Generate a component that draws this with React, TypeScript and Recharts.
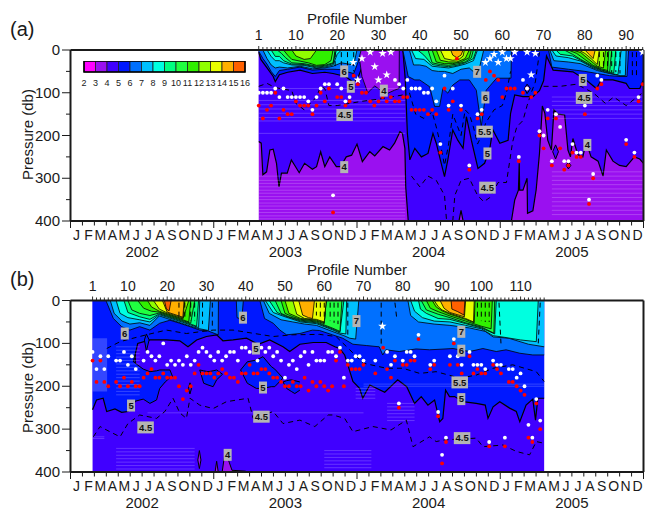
import React from 'react';
import { ComposedChart, Area, Line, Scatter, XAxis, YAxis, ReferenceArea } from 'recharts';

type Pt = [number, number];
type Tri = [number, number, number];

const FONT = '"Liberation Sans", Arial, sans-serif';
const INK = '#1a1a1a';

// colour of the band that starts at each temperature, 2 to 15 degrees
const levels = [2, 3, 4, 5, 6, 7, 8, 9, 10, 11, 12, 13, 14, 15];
const levelColors = ['#ff00ff', '#9a10f0', '#4000ff', '#0018ff', '#0070ff', '#00c0ff', '#00ffe0', '#00ff80', '#20ff40', '#30f000', '#90ff00', '#e8ff00', '#ffb000', '#ff6000'];
const scaleTicks = [2, 3, 4, 5, 6, 7, 8, 9, 10, 11, 12, 13, 14, 15, 16];

const monthLetters = ['J', 'F', 'M', 'A', 'M', 'J', 'J', 'A', 'S', 'O', 'N', 'D'];
const yearLabels: Record<number, string> = { 6: '2002', 18: '2003', 30: '2004', 42: '2005' };
const monthTicks = [0, 1, 2, 3, 4, 5, 6, 7, 8, 9, 10, 11, 12, 13, 14, 15, 16, 17, 18, 19, 20, 21, 22, 23, 24, 25, 26, 27, 28, 29, 30, 31, 32, 33, 34, 35, 36, 37, 38, 39, 40, 41, 42, 43, 44, 45, 46, 47, 48];
const pressureTicks = [0, 50, 100, 150, 200, 250, 300, 350, 400];

/* ---------- panel a, [profile, pressure] ---------- */
const aFloor: Pt[] = [[1, 400], [94.2, 400]];
const a4: Pt[] = [[1, 214], [1.6, 218], [2, 292], [2.9, 285], [3.7, 234], [4.5, 232], [5.3, 265], [5.9, 320], [6.5, 288], [7.9, 288], [8.9, 257], [10.8, 287], [12.1, 265], [14, 279], [15, 273], [16, 238], [17, 273], [18.2, 250], [19.8, 273], [20.8, 273], [22.2, 250], [23.5, 246], [24.8, 220], [26.1, 261], [27.9, 238], [29.1, 248], [31.1, 226], [32.7, 234], [33.9, 218], [35.2, 191], [35.8, 195], [36.4, 230], [36.6, 320], [37.2, 398], [37.5, 400], [49.5, 400], [50, 375], [50.5, 400], [62.2, 400], [63, 351], [63.9, 328], [64.1, 265], [64.2, 328], [65, 328], [66, 300], [66.1, 382], [67.4, 376], [68.2, 327], [69, 242], [69.7, 131], [70.3, 148], [71, 211], [71.9, 234], [72.5, 140], [73.5, 150], [75.1, 152], [75.9, 234], [76.5, 250], [77.1, 207], [78.3, 245], [79.5, 250], [80.3, 215], [81.5, 250], [83.2, 260], [84.4, 295], [85.2, 234], [86.8, 260], [88.4, 270], [90, 273], [92, 250], [93.3, 255], [94.2, 265]];
const a5: Pt[] = [[1, 5], [1.5, 22], [3, 42], [4.5, 62], [5, 74], [6, 58], [8, 52], [11, 47], [14, 55], [17, 52], [19, 55], [22, 62], [24, 76], [25, 66], [26, 40], [26.5, 0], [35.9, 0], [36.5, 70], [37, 195], [37.6, 257], [38.8, 230], [40.4, 250], [42, 242], [43.2, 195], [44, 218], [45.2, 265], [46, 296], [46.8, 257], [48, 187], [49.2, 211], [50.5, 230], [51.3, 156], [52.5, 211], [54.1, 277], [55.7, 265], [56.9, 234], [57.7, 187], [59.4, 218], [61.4, 211], [62, 148], [63, 105], [65, 109], [67.4, 109], [69, 95], [70, 72], [70.7, 14], [72.3, 47], [77.1, 51], [80.3, 70], [82.8, 90], [84, 70], [86.8, 70], [90, 78], [90.8, 90], [93.3, 90], [94.2, 70]];
const aColdCap: Pt[] = [[25.1, 0], [26, 62], [27.4, 100], [29.1, 84], [30.9, 97], [32.3, 101], [33.9, 94], [35, 90], [35.05, 0]];
const a6: Pt[] = [[1, 3], [2, 20], [3, 33], [4, 50], [5, 62], [6, 48], [8, 45], [11, 40], [14, 47], [17, 45], [19, 45], [21, 46], [22, 50], [24, 55], [25, 30], [25.8, 0], [35.9, 0], [37.2, 62], [38.8, 70], [40, 70], [42.4, 86], [43.6, 132], [44.8, 132], [45.6, 90], [46.8, 101], [48, 82], [49.7, 70], [52, 70], [53.7, 94], [54.9, 179], [56.1, 94], [58.6, 66], [62.1, 66], [62.2, 0], [71.2, 0], [72, 40], [76, 45], [80, 50], [83, 55], [86, 60], [88.5, 62], [90.2, 62], [90.6, 0]];
const a7: Pt[] = [[2, 0], [3, 20], [4, 35], [5, 42], [6, 40], [8, 42], [11, 38], [14, 44], [17, 42], [19, 38], [21, 30], [24, 35], [24.8, 0], [37.5, 0], [38.5, 35], [40, 35], [41.5, 38], [43, 48], [44.5, 50], [46, 50], [48, 55], [50, 45], [52, 42], [53.5, 55], [54.5, 40], [55.5, 0], [71.5, 0], [72.5, 25], [76, 28], [79, 32], [83, 48], [86, 55], [88.5, 60], [89.8, 60], [90, 0]];
const a8: Pt[] = [[3, 0], [4, 15], [5, 25], [6, 25], [7, 30], [9, 35], [12, 36], [15, 42], [17, 40], [19, 35], [20, 10], [21, 0], [38, 0], [39, 20], [41, 22], [43, 38], [45, 40], [47, 42], [49, 38], [51, 33], [53, 25], [54, 0], [72, 0], [73, 14], [76, 18], [79, 26], [82, 42], [85, 52], [88, 58], [88.8, 0]];
const a9: Pt[] = [[4, 0], [5, 15], [6, 15], [7, 25], [9, 33], [12, 34], [15, 40], [17, 38], [19, 32], [19.8, 0], [39.5, 0], [41, 12], [43, 34], [45, 37], [47, 39], [49, 36], [51, 30], [53, 20], [53.7, 0], [73, 0], [74, 10], [77, 14], [79, 24], [82, 40], [85, 50], [87, 54], [87.5, 0]];
const a10: Pt[] = [[5.5, 0], [6.5, 8], [7.5, 18], [9, 30], [12, 32], [15, 38], [17, 36], [19, 30], [19.5, 0], [42, 0], [43, 30], [45, 34], [47, 36], [49, 33], [51, 28], [52.5, 18], [53, 0], [75, 0], [77, 10], [79, 22], [82, 38], [84, 46], [86, 52], [86.5, 0]];
const a11: Pt[] = [[7, 0], [8, 12], [9, 22], [11, 26], [13, 30], [15, 36], [17, 34], [18.5, 25], [19, 0], [43, 0], [44, 28], [46, 32], [48, 32], [50, 28], [52, 18], [52.5, 0], [76, 0], [78, 8], [80, 22], [82, 36], [84, 44], [85.5, 48], [85.8, 0]];
const a12: Pt[] = [[9, 0], [10, 14], [12, 22], [13.5, 20], [15, 0], [44, 0], [45, 24], [47, 28], [49, 28], [51, 20], [52, 0], [77, 0], [79, 6], [81, 22], [83, 38], [84.5, 42], [85, 0]];
const a13: Pt[] = [[45, 0], [46, 20], [48, 24], [49.5, 22], [50.5, 14], [50.8, 0], [78.5, 0], [80, 8], [81.5, 20], [83, 34], [83.5, 0]];
const a14: Pt[] = [[47.5, 0], [48, 12], [49, 18], [50, 12], [50.5, 0], [80, 0], [81, 10], [82, 20], [82.5, 0]];
const aIsotherms: [number, Pt[]][] = [[4, a4], [5, a5], [3, aColdCap], [6, a6], [7, a7], [8, a8], [9, a9], [10, a10], [11, a11], [12, a12], [13, a13], [14, a14]];
const aEyes: [number, Tri[]][] = [
  [4, [[72.2, 238, 238], [72.9, 222, 255], [73.6, 238, 238]]],
  [4, [[75.5, 270, 270], [76, 262, 278], [76.6, 270, 270]]],
  [5, [[65.4, 90, 90], [66, 80, 102], [66.8, 90, 90]]],
];
const aDashes: Pt[][] = [
  [[1, 85], [3, 78], [5, 88], [9, 95], [10, 125], [12, 140], [15, 110], [16, 85], [17, 90], [18, 130], [20, 130], [23, 125], [26, 120], [30, 115], [33, 110], [36, 105]],
  [[38, 295], [40, 320], [42, 295], [44, 305], [46, 340], [46.5, 400]],
  [[48, 400], [48.5, 340], [50, 305], [52, 300], [54, 340], [55.5, 355], [57, 345], [59, 310], [61, 310], [62.5, 215], [63.5, 180], [65, 165], [66, 130], [67, 100], [68, 75], [69, 5]],
  [[70, 85], [74, 85], [78, 80], [82, 100], [85, 125], [87, 110], [90, 130], [94, 100]],
  [[37.5, 100], [39, 150], [41, 160], [43, 145], [44, 180], [45, 220], [46, 270], [47, 220], [48, 150], [50, 200], [51, 140], [52, 150], [53, 180], [54, 220], [55, 200], [56, 170], [58, 140], [60, 130], [61, 100], [62, 50]],
  [[19.5, 5], [19.5, 42]], [[21, 5], [21, 45]], [[22.5, 5], [22.5, 48]], [[24, 5], [24, 50]],
  [[83.5, 5], [83.5, 45]], [[84.5, 5], [84.5, 48]], [[85.5, 5], [85.5, 50]], [[86.5, 5], [86.5, 52]], [[87.5, 5], [87.5, 52]], [[88.5, 5], [88.5, 55]], [[91.5, 5], [91.5, 60]], [[92.5, 5], [92.5, 60]],
];
const aHatch: [number, number, number[]][] = [
  [1, 36.5, [195, 295, 305, 312, 320, 328, 335, 343, 350, 358, 365, 373, 380, 388, 395]],
  [1, 36.5, [90, 118, 128, 138, 148, 158, 166]],
  [72, 94, [110, 120, 130, 140, 150, 160, 285, 295, 305, 315, 325, 335, 345, 355, 365, 375, 385]],
];
const aWhite: Pt[] = [[1, 100], [2, 100], [3, 100], [4, 100], [5, 90], [6, 110], [7, 90], [8, 110], [9, 110], [10, 110], [11, 110], [12, 110], [13, 120], [14, 140], [15, 110], [16, 90], [17, 80], [18, 80], [19, 340], [20, 80], [21, 90], [22, 120], [23, 110], [34, 70], [35, 80], [36, 90], [37, 70], [38, 90], [39, 90], [40, 90], [41, 100], [42, 100], [43, 90], [44, 120], [45, 220], [46, 60], [47, 130], [48, 90], [50, 130], [52, 270], [54, 150], [55, 140], [64, 250], [65, 70], [66, 90], [69, 190], [70, 200], [71, 140], [72, 260], [73, 150], [74, 180], [75, 260], [76, 260], [77, 220], [78, 240], [79, 240], [80, 130], [81, 350], [82, 290], [83, 60], [84, 70], [90, 210], [92, 240], [93, 110]];
const aRed: Pt[] = [[1, 130], [2, 160], [3, 140], [4, 130], [5, 100], [6, 160], [7, 140], [8, 150], [9, 150], [10, 120], [11, 130], [12, 130], [13, 130], [14, 150], [15, 130], [16, 100], [17, 120], [18, 90], [19, 380], [20, 110], [21, 110], [22, 130], [23, 120], [24, 60], [25, 80], [26, 100], [27, 100], [28, 120], [29, 130], [30, 120], [31, 110], [32, 120], [33, 110], [34, 120], [35, 120], [36, 110], [37, 110], [38, 140], [39, 140], [40, 140], [41, 140], [42, 150], [43, 140], [44, 150], [45, 240], [46, 90], [47, 140], [48, 120], [49, 20], [50, 140], [52, 280], [54, 160], [55, 150], [56, 70], [57, 50], [58, 60], [59, 70], [60, 110], [61, 90], [62, 90], [63, 90], [64, 260], [65, 100], [66, 90], [67, 110], [68, 100], [69, 200], [70, 230], [71, 160], [72, 270], [73, 160], [74, 230], [75, 280], [76, 270], [77, 240], [78, 250], [79, 250], [80, 150], [81, 360], [82, 300], [83, 90], [84, 80], [90, 220], [92, 250], [93, 120], [94, 80]];
const aStars: Pt[] = [[23.9, 29], [25, 70], [26, 20], [28, 5], [29.1, 39], [30, 70], [31, 8], [32, 58], [33, 5], [55.9, 29], [57, 20], [58, 10], [59, 29], [60, 5], [61, 20], [62, 20], [63, 5], [66, 5], [67, 58], [68, 8], [94, 5]];
const aLabels: [number, number, string][] = [[21.7, 50, '6'], [23.3, 86, '5'], [31.3, 95, '4'], [21.8, 152, '4.5'], [21.7, 274, '4'], [53.9, 51, '7'], [55.9, 111, '6'], [55.7, 191, '5.5'], [56.4, 242, '5'], [56.4, 322, '4.5'], [79.5, 70, '5'], [79.8, 112, '4.5'], [80.6, 222, '4']];

/* ---------- panel b, [profile, pressure] ---------- */
const bFloor: Pt[] = [[1, 400], [116, 400]];
const b5Left: Pt[] = [[1, 255], [2, 232], [3.7, 228], [4.6, 259], [6.7, 253], [8.4, 261], [10, 259], [11.8, 236], [12, 0]];
const b5: Pt[] = [[11.4, 143], [12.5, 100], [15.6, 92], [19.8, 92], [23.2, 94], [25.3, 108], [27.5, 92], [30, 84], [32.6, 80], [34.2, 94], [36.8, 92], [40.2, 88], [43.2, 102], [46.1, 92], [49.5, 108], [51.2, 119], [53.8, 102], [57.2, 98], [60.5, 98], [62.7, 108], [63.9, 112], [65.2, 127], [66, 150], [67.3, 189], [69, 205], [69.8, 228], [71.6, 197], [75.4, 214], [78.7, 185], [81, 201], [83, 240], [84.7, 224], [86.4, 244], [88.1, 232], [89.4, 283], [90.2, 275], [90.9, 209], [91.9, 224], [93.2, 224], [95.3, 236], [98.7, 240], [101, 244], [101.7, 275], [103, 248], [104.7, 236], [107.2, 251], [108.9, 259], [109.8, 283], [111.4, 244], [113.1, 230], [113.8, 279], [114.4, 228], [116, 228]];
const b6: Pt[] = [[4.4, 0], [6.3, 42], [8.4, 61], [10.5, 69], [13, 61], [15.6, 69], [18.1, 53], [20.7, 46], [23.2, 53], [25.8, 61], [28.3, 69], [30.4, 71], [33, 80], [33.05, 0], [37.6, 0], [37.8, 40], [39, 44], [39.4, 0], [43.6, 0], [44.8, 42], [47, 53], [48.7, 69], [50.4, 80], [53.8, 77], [57, 69], [58.8, 70], [62.1, 80], [64.7, 88], [67.3, 102], [70.7, 105], [74, 108], [74.9, 127], [75.7, 115], [79.1, 119], [83.4, 113], [86.8, 115], [92.8, 112], [97, 119], [100.4, 112], [103.8, 119], [106.3, 115], [109.8, 123], [113.1, 127], [116, 127]];
const b7: Pt[] = [[5.5, 0], [6.5, 30], [8.5, 48], [10.5, 55], [13, 52], [15.6, 58], [18, 36], [20, 42], [22, 48], [24, 54], [26, 60], [28.3, 66], [30.5, 70], [31, 0], [44.5, 0], [46, 30], [49, 45], [52, 50], [55, 55], [58, 58], [62, 72], [65, 82], [66.5, 88], [68, 90], [68.8, 0], [81.3, 0], [82, 35], [84, 50], [88, 55], [92, 58], [97, 64], [101, 72], [103, 85], [107, 88], [112, 102], [116, 108]];
const b8: Pt[] = [[7, 0], [8, 30], [10, 40], [13, 45], [15.6, 50], [18, 33], [20, 39], [22, 45], [24, 51], [26, 57], [28, 63], [28.3, 0], [45, 0], [47, 28], [50, 38], [54, 50], [58, 54], [62, 68], [64, 76], [65.5, 78], [65.7, 0], [82, 0], [83, 25], [85, 40], [88, 48], [92, 50], [96, 58], [100, 66], [103, 82], [106, 86], [110, 92], [114, 96], [114.5, 0]];
const b9: Pt[] = [[9, 0], [10, 28], [13, 38], [15.6, 44], [18, 31], [20, 37], [22, 43], [24, 49], [26, 55], [27.5, 60], [28, 0], [46, 0], [48, 28], [50, 36], [54, 48], [58, 52], [62, 66], [64, 74], [65, 0], [84, 0], [84.5, 20], [86, 30], [89, 42], [92, 44], [96, 54], [100, 64], [103.4, 78], [103.8, 0]];
const b10: Pt[] = [[10, 0], [11, 22], [13, 30], [15.6, 35], [18, 29], [20, 35], [22, 41], [24, 47], [26, 53], [27, 0], [47.5, 0], [49, 30], [51, 38], [54, 46], [58, 50], [62, 64], [64, 72], [64.5, 0], [84.7, 0], [86, 22], [89, 32], [92, 40], [96, 52], [100, 62], [103.2, 76], [103.4, 0]];
const b11: Pt[] = [[12.5, 0], [14, 18], [16, 25], [18, 27], [20, 33], [22, 39], [24, 45], [25.5, 50], [26, 0], [49, 0], [50, 30], [52, 38], [54, 44], [58, 48], [60, 54], [60.5, 0], [86, 0], [87, 18], [89, 26], [92, 36], [96, 48], [100, 60], [102.5, 66], [102.8, 0]];
const b12: Pt[] = [[15, 0], [16, 15], [18, 25], [20, 31], [22, 37], [24, 43], [25.5, 0], [50, 0], [51, 30], [54, 42], [58, 46], [60, 52], [60.5, 0], [87.5, 0], [88.5, 15], [90, 24], [92, 32], [96, 44], [98.2, 52], [98.4, 0]];
const b13: Pt[] = [[16.5, 0], [18, 20], [20, 29], [22, 35], [24, 41], [24.5, 0], [52, 0], [53, 32], [55, 42], [58, 44], [60, 50], [60.5, 0], [88, 0], [89, 14], [90, 22], [92, 30], [96, 42], [98, 50], [98.2, 0]];
const b14: Pt[] = [[18.8, 0], [20, 27], [22, 33], [24, 39], [24.3, 0], [53.5, 0], [54.5, 34], [56, 40], [57, 42], [57.5, 0], [89.5, 0], [90.5, 18], [92, 28], [95.7, 38], [96, 0]];
const b15: Pt[] = [[19.3, 0], [19.8, 20], [20.5, 24], [21, 0], [92.3, 0], [92.5, 20], [94, 26], [95.6, 34], [95.8, 0]];
const bIsotherms: [number, Pt[]][] = [[5, b5Left], [5, b5], [6, b6], [7, b7], [8, b8], [9, b9], [10, b10], [11, b11], [12, b12], [13, b13], [14, b14], [15, b15]];
const bEyes: [number, Tri[]][] = [
  [5, [[11.4, 143, 236], [13.9, 160, 230], [15.6, 166, 240], [17.3, 164, 232], [18.1, 162, 205], [19.5, 162, 190], [20.7, 162, 180], [21.4, 178, 178]]],
  [5, [[38.7, 162, 162], [40.4, 143, 193], [42.7, 139, 205], [44.4, 131, 205], [46.5, 154, 201], [47.4, 160, 201], [49.5, 181, 181]]],
  [5, [[28.3, 162, 162], [29.3, 164, 193], [30.4, 166, 197], [31.7, 164, 201], [32.6, 162, 185], [34.1, 172, 172]]],
  [5, [[49.5, 190, 190], [50.4, 187, 205], [51.6, 185, 212], [52.5, 187, 217], [53.8, 190, 209]]],
  [5, [[25.4, 205, 205], [25.8, 192, 218], [26.2, 205, 205]]],
  [5, [[14.2, 92, 92], [14.7, 78, 118], [15.4, 92, 92]]],
  [3, [[27.8, 372, 372], [28.2, 350, 392], [28.6, 372, 372]]],
  [3, [[32.2, 400, 400], [32.6, 375, 400], [33, 400, 400], [34, 400, 400], [34.8, 350, 400], [35.6, 372, 400], [36.5, 396, 400], [40, 398, 400]]],
];
const bDashes: Pt[][] = [
  [[1.2, 318], [2.9, 294], [5.4, 306], [8, 318], [10, 287], [13, 267], [17.3, 275], [19.4, 259], [21.5, 228], [23.2, 262], [24.9, 275], [25.8, 228], [28.3, 244], [31.7, 252], [35.1, 236], [40.6, 228], [41.9, 275], [47, 259], [49.5, 287], [53.8, 279], [57.6, 294], [61, 267], [62.2, 267], [65.2, 275], [67.3, 306], [72.4, 294], [77, 302], [80.9, 279], [82.6, 341], [86.8, 318], [88.5, 329], [90.7, 325], [98.7, 321], [100.4, 341], [105.5, 337], [108.9, 352], [112.3, 360], [114, 329], [116, 333]],
  [[4.6, 112], [8, 96], [11.3, 88], [14.7, 80], [19.8, 69], [24.9, 77], [31.7, 69], [36.8, 69], [43.6, 79], [47, 84], [52, 80], [58.8, 79], [63, 84], [66.5, 115], [69.9, 146], [75.8, 158], [80, 158], [84.3, 170], [88.5, 166], [94.5, 181], [98.7, 174], [103, 158], [108, 150], [114, 166], [116, 189]],
  [[74.5, 5], [74.5, 105]], [[78, 5], [78.5, 45]], [[104.5, 5], [105, 100]], [[115, 5], [114.5, 100]],
  [[23, 5], [23, 40]], [[24.5, 5], [24.5, 40]], [[26, 5], [26, 48]], [[27, 5], [27, 48]], [[29, 5], [29, 55]], [[31.5, 5], [31.5, 65]],
  [[58, 5], [58, 35]], [[59, 5], [59, 38]], [[60, 5], [60, 38]], [[61.5, 5], [61.5, 48]], [[62.5, 5], [62.5, 52]], [[63.5, 5], [63.5, 55]], [[66, 5], [66, 82]],
  [[99, 5], [99, 45]], [[100, 5], [100, 48]], [[101, 5], [101, 50]], [[102, 5], [102, 50]],
];
const bHatch: [number, number, number[]][] = [
  [7, 13, [108, 116, 124, 132, 140, 148, 156, 164, 172, 180, 188, 196, 204, 212, 220]],
  [7, 27, [345, 353, 361, 369, 377, 385, 393]],
  [15, 70, [262]],
  [60, 72, [350, 358, 366, 374, 382, 390]],
  [70, 116, [195, 200]],
  [76, 83, [240, 248, 256, 264, 272, 280]],
  [68, 73, [205, 212, 220, 228]],
  [1, 4, [318, 322]],
];
const bLightPatch: Tri[] = [[1, 88, 212], [4.7, 88, 212]];
const bWhite: Pt[] = [[1, 120], [2, 160], [3, 130], [4, 160], [5, 130], [7, 140], [8, 140], [9, 120], [10, 150], [11, 130], [12, 160], [14, 140], [15, 120], [16, 130], [17, 140], [18, 130], [19, 100], [20, 150], [21, 140], [22, 150], [23, 140], [24, 150], [25, 130], [26, 150], [27, 140], [28, 120], [29, 110], [30, 120], [31, 130], [32, 140], [33, 120], [34, 140], [35, 130], [36, 120], [37, 120], [38, 140], [39, 110], [40, 110], [41, 120], [42, 120], [43, 140], [44, 110], [45, 120], [46, 110], [47, 130], [48, 120], [49, 140], [50, 180], [51, 150], [52, 140], [53, 160], [54, 130], [55, 120], [56, 150], [57, 120], [58, 140], [59, 140], [60, 140], [61, 120], [62, 120], [63, 130], [64, 110], [65, 180], [66, 140], [67, 140], [68, 130], [69, 130], [70, 140], [73, 140], [76, 120], [77, 150], [78, 130], [79, 240], [80, 140], [81, 120], [82, 120], [83, 130], [84, 80], [87, 150], [88, 140], [89, 260], [90, 360], [91, 320], [92, 130], [93, 90], [94, 130], [95, 150], [97, 120], [98, 150], [99, 150], [100, 150], [101, 160], [102, 330], [103, 140], [104, 150], [105, 150], [106, 320], [107, 160], [108, 160], [109, 180], [110, 170], [111, 200], [112, 290], [113, 320], [114, 230], [115, 280]];
const bRed: Pt[] = [[1, 140], [2, 190], [3, 140], [4, 190], [5, 200], [7, 190], [8, 200], [9, 180], [10, 200], [11, 190], [12, 200], [13, 200], [14, 180], [15, 170], [16, 160], [17, 180], [18, 180], [19, 170], [20, 180], [21, 180], [22, 180], [23, 200], [24, 230], [25, 210], [26, 200], [27, 170], [28, 150], [29, 170], [30, 170], [31, 170], [32, 180], [33, 170], [34, 160], [35, 170], [36, 180], [37, 180], [38, 190], [39, 170], [40, 170], [41, 150], [42, 170], [43, 170], [44, 160], [45, 160], [46, 170], [47, 180], [48, 180], [49, 190], [50, 200], [51, 200], [52, 190], [53, 200], [54, 200], [55, 180], [56, 210], [57, 190], [58, 200], [59, 190], [60, 200], [61, 210], [62, 200], [63, 140], [64, 120], [65, 200], [66, 150], [67, 160], [68, 160], [69, 160], [70, 150], [73, 170], [75, 110], [76, 160], [77, 180], [78, 140], [79, 250], [80, 150], [81, 150], [82, 140], [83, 140], [84, 90], [87, 160], [88, 150], [89, 270], [90, 380], [91, 330], [92, 150], [93, 100], [94, 150], [95, 170], [97, 130], [98, 170], [99, 160], [100, 170], [101, 170], [102, 340], [103, 150], [104, 160], [105, 170], [106, 340], [107, 190], [108, 190], [109, 200], [110, 210], [111, 220], [112, 320], [113, 330], [114, 240], [115, 300]];
const bStars: Pt[] = [[74.8, 60]];
const bLabels: [number, number, string][] = [[9.2, 77, '6'], [39.3, 40, '6'], [42.6, 112, '5'], [44.4, 203, '5'], [10.8, 245, '5'], [14.5, 296, '4.5'], [44, 271, '4.5'], [35.4, 360, '4'], [68.2, 48, '7'], [94.9, 73, '7'], [94.9, 117, '6'], [94.5, 191, '5.5'], [94.9, 230, '5'], [95.1, 321, '4.5']];

const aProfileTicks = Array.from({ length: 94 }, (_, i) => i + 1);
const bProfileTicks = Array.from({ length: 116 }, (_, i) => i + 1);

const toRows = (pts: Pt[]) => pts.map(([x, y]) => ({ x, y }));
const toRange = (pts: Tri[]) => pts.map(([x, a, b]) => ({ x, r: [a, b] }));

const Dot = (color: string) => (p: any) => <circle cx={p.cx} cy={p.cy} r={1.9} fill={color} />;

const Star = (p: any) => {
  const pts: string[] = [];
  for (let i = 0; i < 10; i++) {
    const r = i % 2 ? 1.7 : 4.4;
    const a = (Math.PI / 5) * i - Math.PI / 2;
    pts.push(`${p.cx + r * Math.cos(a)},${p.cy + r * Math.sin(a)}`);
  }
  return <polygon points={pts.join(' ')} fill="#fff" />;
};

const Tag = (p: any) => {
  const text = p.payload?.text ?? p.text;
  const w = text.length > 1 ? 16.5 : 8;
  return (
    <g>
      <rect x={p.cx - w / 2} y={p.cy - 6} width={w} height={12} fill="#b4b4b4" />
      <text x={p.cx} y={p.cy + 3.3} textAnchor="middle" fontSize={9.5} fontWeight={700} fontFamily={FONT} fill="#111">{text}</text>
    </g>
  );
};

function Panel({ height, top, bottom, domain, profileTicks, floor, isotherms, eyes, dashes, hatch, light, white, red, stars, labels }: any) {
  const hatchLines: Pt[][] = [];
  hatch.forEach(([a, b, ds]: [number, number, number[]]) => ds.forEach((d) => hatchLines.push([[a, d], [b, d]])));

  const profileTick = (p: any) => {
    const v = p.payload.value;
    const labelled = v === 1 || v % 10 === 0;
    return (
      <g>
        <line x1={p.x} x2={p.x} y1={top} y2={top - (labelled ? 4 : 3)} stroke={INK} strokeWidth={0.9} />
        {labelled && <text x={p.x} y={top - 10} textAnchor="middle" fontSize={14} fontFamily={FONT} fill={INK}>{v}</text>}
      </g>
    );
  };
  const monthTick = (p: any) => {
    const m = p.payload.value;
    const y0 = height - bottom;
    return (
      <g>
        <line x1={p.x} x2={p.x} y1={y0} y2={y0 + (m % 12 === 0 ? 7 : 4.5)} stroke={INK} strokeWidth={1} />
        {m < 48 && <text x={p.x + 6} y={y0 + 19} textAnchor="middle" fontSize={14} fontFamily={FONT} fill={INK}>{monthLetters[m % 12]}</text>}
        {yearLabels[m] && <text x={p.x} y={y0 + 35.5} textAnchor="middle" fontSize={15} fontFamily={FONT} fill={INK}>{yearLabels[m]}</text>}
      </g>
    );
  };
  const pressureTick = (p: any) => {
    const v = p.payload.value;
    const major = v % 100 === 0;
    return (
      <g>
        <line x1={70.5} x2={major ? 62 : 66} y1={p.y} y2={p.y} stroke={INK} strokeWidth={1} />
        {major && <text x={60} y={p.y + 5} textAnchor="end" fontSize={15} fontFamily={FONT} fill={INK}>{v}</text>}
      </g>
    );
  };

  return (
    <ComposedChart width={645} height={height} margin={{ top: 0, right: 0, bottom: 0, left: 0 }}>
      <XAxis dataKey="x" type="number" orientation="top" height={top} domain={domain} allowDataOverflow ticks={profileTicks} interval={0} axisLine={{ stroke: INK, strokeWidth: 2 }} tickLine={false} tick={profileTick} />
      <XAxis xAxisId="month" dataKey="x" type="number" orientation="bottom" height={bottom} domain={[0, 48]} allowDataOverflow ticks={monthTicks} interval={0} axisLine={{ stroke: INK, strokeWidth: 2 }} tickLine={false} tick={monthTick} />
      <YAxis dataKey="y" type="number" width={70.5} domain={[0, 400]} reversed allowDataOverflow ticks={pressureTicks} interval={0} axisLine={{ stroke: INK, strokeWidth: 2 }} tickLine={false} tick={pressureTick} />
      <YAxis yAxisId="right" orientation="right" type="number" width={1.5} domain={[0, 400]} reversed allowDataOverflow ticks={[]} axisLine={{ stroke: INK, strokeWidth: 2 }} tickLine={false} />

      <Area data={toRows(floor)} dataKey="y" fill={levelColors[isotherms[0][0] === 4 ? 1 : 2]} fillOpacity={1} stroke="none" isAnimationActive={false} dot={false} activeDot={false} />
      {isotherms.map(([level, pts]: [number, Pt[]], i: number) => (
        <Area key={i} data={toRows(pts)} dataKey="y" fill={levelColors[levels.indexOf(level)]} fillOpacity={1} stroke="#000" strokeWidth={level === 4 || level === 5 ? 1.2 : 0.8} isAnimationActive={false} dot={false} activeDot={false} />
      ))}
      {eyes.map(([level, pts]: [number, Tri[]], i: number) => (
        <Area key={'e' + i} data={toRange(pts)} dataKey="r" fill={levelColors[levels.indexOf(level)]} fillOpacity={1} stroke="#000" strokeWidth={1} isAnimationActive={false} dot={false} activeDot={false} />
      ))}
      {light && <Area data={toRange(light)} dataKey="r" fill="#fff" fillOpacity={0.2} stroke="none" isAnimationActive={false} dot={false} activeDot={false} />}
      {hatchLines.map((pts, i) => (
        <Line key={'h' + i} data={toRows(pts)} dataKey="y" stroke="#fff" strokeOpacity={0.2} strokeWidth={1} isAnimationActive={false} dot={false} activeDot={false} />
      ))}
      {dashes.map((pts: Pt[], i: number) => (
        <Line key={'d' + i} data={toRows(pts)} dataKey="y" stroke="#000" strokeWidth={1} strokeDasharray="5 4" isAnimationActive={false} dot={false} activeDot={false} />
      ))}
      <Scatter data={toRows(red)} dataKey="y" shape={Dot('#ff0000')} isAnimationActive={false} />
      <Scatter data={toRows(white)} dataKey="y" shape={Dot('#ffffff')} isAnimationActive={false} />
      <Scatter data={toRows(stars)} dataKey="y" shape={Star} isAnimationActive={false} />
      <Scatter data={labels.map(([x, y, text]: [number, number, string]) => ({ x, y, text }))} dataKey="y" shape={Tag} isAnimationActive={false} />
    </ComposedChart>
  );
}

function ColorScale() {
  return (
    <ComposedChart width={190} height={32} margin={{ top: 0, right: 21, bottom: 0, left: 8 }}>
      <XAxis type="number" dataKey="x" height={21} domain={[2, 16]} allowDataOverflow ticks={scaleTicks} interval={0} axisLine={false} tickLine={false} tick={{ fontSize: 9, fill: INK, fontFamily: FONT }} tickMargin={2} />
      <YAxis dataKey="y" type="number" domain={[0, 1]} allowDataOverflow hide />
      {levels.map((lv, i) => (
        <ReferenceArea key={lv} x1={lv} x2={lv + 1} y1={0} y2={1} fill={levelColors[i]} fillOpacity={1} stroke="#222" strokeWidth={0.8} ifOverflow="visible" />
      ))}
      <ReferenceArea x1={2} x2={16} y1={0} y2={1} fill="none" stroke="#000" strokeWidth={1.6} ifOverflow="visible" />
    </ComposedChart>
  );
}

const textAt = (x: number, y: number, size: number): React.CSSProperties => ({
  position: 'absolute', left: x, top: y, fontSize: size, fontFamily: FONT, color: INK, whiteSpace: 'nowrap', lineHeight: 1,
});

export default function App() {
  return (
    <div style={{ position: 'absolute', left: 0, top: 0, width: 645, height: 508, background: '#fff', overflow: 'hidden' }}>
      <div style={{ position: 'absolute', left: 0, top: 0 }}>
        <Panel height={260} top={50} bottom={39} domain={[-44.6, 94.2]} profileTicks={aProfileTicks} floor={aFloor} isotherms={aIsotherms} eyes={aEyes} dashes={aDashes} hatch={aHatch} white={aWhite} red={aRed} stars={aStars} labels={aLabels} />
      </div>
      <div style={{ position: 'absolute', left: 0, top: 250 }}>
        <Panel height={258} top={50.5} bottom={36} domain={[-4.62, 141.3]} profileTicks={bProfileTicks} floor={bFloor} isotherms={bIsotherms} eyes={bEyes} dashes={bDashes} hatch={bHatch} light={bLightPatch} white={bWhite} red={bRed} stars={bStars} labels={bLabels} />
      </div>
      <div style={{ position: 'absolute', left: 76, top: 61 }}>
        <ColorScale />
      </div>
      <div style={textAt(10, 19, 20)}>(a)</div>
      <div style={textAt(10, 269, 20)}>(b)</div>
      <div style={textAt(307, 11, 15)}>Profile Number</div>
      <div style={textAt(307, 262, 15)}>Profile Number</div>
      <div style={{ ...textAt(-23, 127, 15), transform: 'rotate(-90deg)', width: 100, textAlign: 'center' }}>Pressure (db)</div>
      <div style={{ ...textAt(-23, 380, 15), transform: 'rotate(-90deg)', width: 100, textAlign: 'center' }}>Pressure (db)</div>
    </div>
  );
}
